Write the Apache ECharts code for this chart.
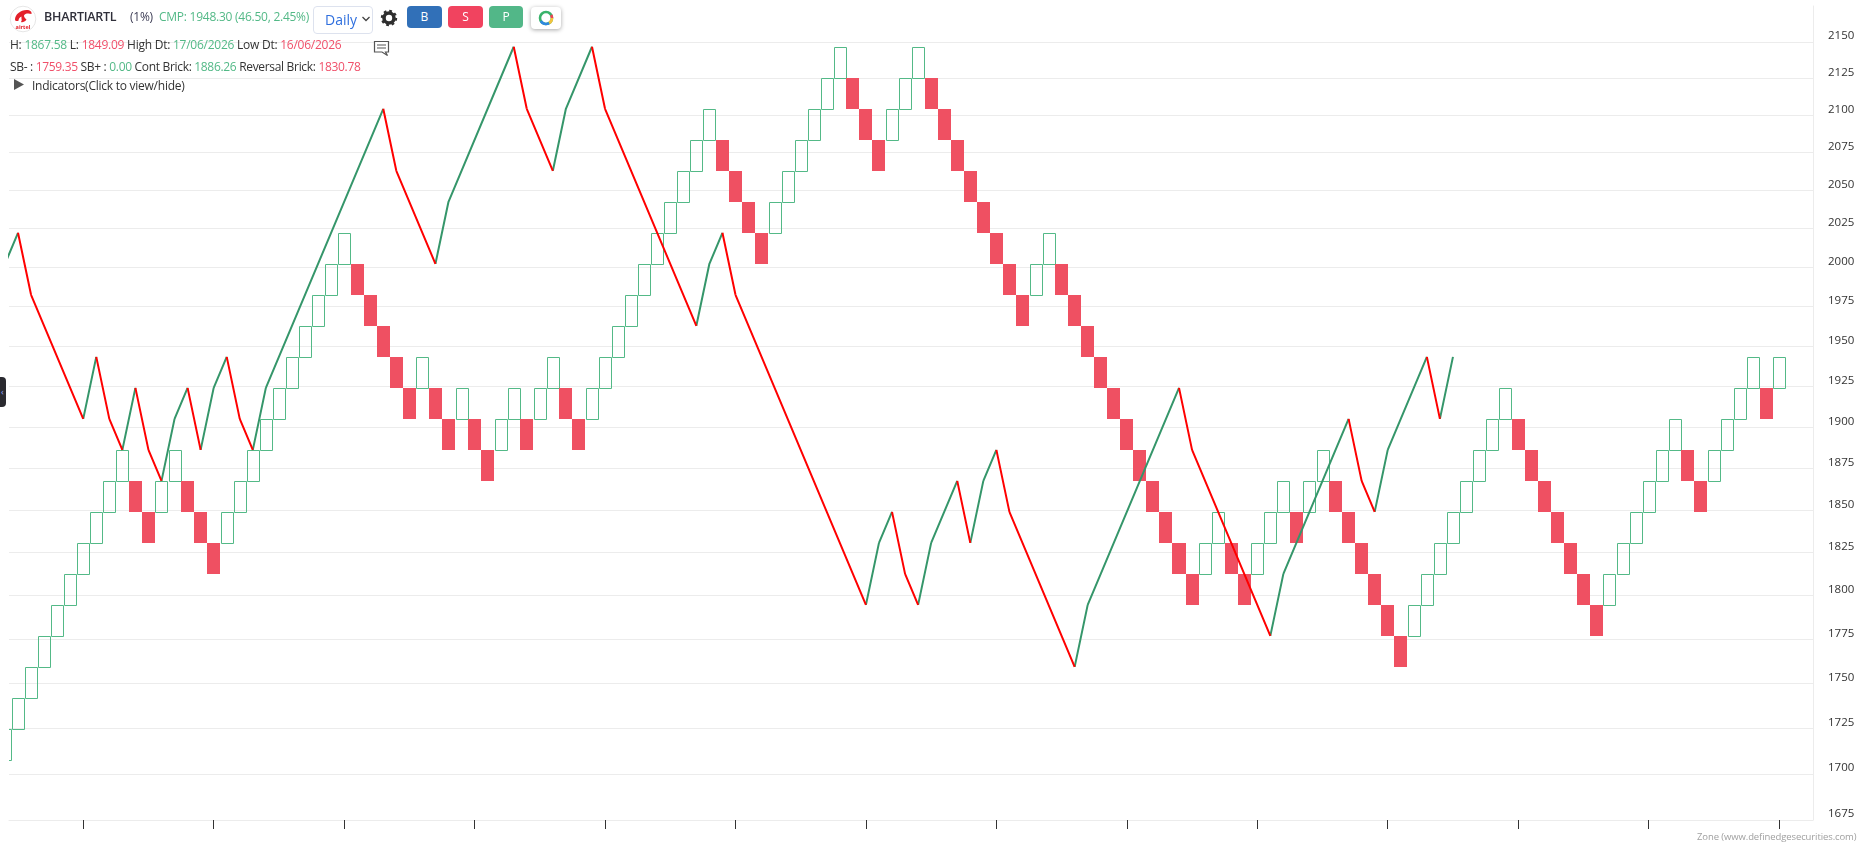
<!DOCTYPE html>
<html><head><meta charset="utf-8">
<style>
html,body{margin:0;padding:0;background:#fff;width:1860px;height:862px;overflow:hidden;font-family:"Open Sans",sans-serif;color:#333}
#chart{position:absolute;left:0;top:0;width:1860px;height:862px}
.t{position:absolute;white-space:nowrap;font-size:12px;line-height:16px;letter-spacing:-0.25px;z-index:5}
.g{color:#53b987}.r{color:#f0506a}
.btn{position:absolute;top:6px;height:22px;border-radius:4px;color:#fff;font-size:12px;line-height:22px;text-align:center;z-index:5}
svg{position:absolute;z-index:5}
</style>
<script src="https://cdn.jsdelivr.net/npm/echarts@6/dist/echarts.min.js"></script>
</head><body>
<div id="chart"></div>

<svg style="left:9px;top:5px" width="28" height="28" viewBox="0 0 28 28"><circle cx="14" cy="14" r="12.8" fill="#fff" stroke="#e6e6e6"/><path d="M6 14.500C6 9.500 11.500 5 17.500 5C21.500 5 23 7 22.500 9C20 8 15.500 8.200 15 10.500C14.700 12 16.500 13.500 17.500 14.500C16 17 12.500 18 12 16.800C13.500 15.500 12 13.500 12.500 11.500C10.500 12 9.500 14 9.500 15.800C7.800 16.500 6 16 6 14.500Z" fill="#e3202a"/><text x="14" y="23.500" text-anchor="middle" font-family="Open Sans" font-weight="700" font-size="5.500" fill="#e3202a">airtel</text></svg>
<div class="t" style="left:44px;top:9px;font-weight:600;font-size:12.5px;color:#2f2f3a">BHARTIARTL</div>
<div class="t" style="left:130px;top:9px;color:#3d3d55">(1%)</div>
<div class="t g" style="left:159px;top:9px">CMP: 1948.30 (46.50, 2.45%)</div>

<div style="position:absolute;left:313px;top:6px;width:58px;height:26px;border:1px solid #dde2ee;border-radius:4px;z-index:5"></div>
<div class="t" style="left:325px;top:12px;font-size:14px;color:#2f6fde;letter-spacing:0">Daily</div>
<svg style="left:361px;top:15px" width="10" height="8" viewBox="0 0 10 8"><path d="M1.500 2L5 5.500L8.500 2" fill="none" stroke="#444" stroke-width="1.300"/></svg>
<svg style="left:380px;top:9px" width="18" height="18" viewBox="0 0 18 18"><circle cx="9" cy="9" r="5" fill="none" stroke="#2e2e2e" stroke-width="3.600"/><circle cx="9" cy="9" r="7.200" fill="none" stroke="#2e2e2e" stroke-width="2" stroke-dasharray="2.800 2.850"/></svg>
<div class="btn" style="left:407px;width:35px;background:#3170b8">B</div>
<div class="btn" style="left:448px;width:35px;background:#f1435f">S</div>
<div class="btn" style="left:489px;width:34px;background:#52b788">P</div>
<div style="position:absolute;left:531px;top:7px;width:30px;height:22px;border-radius:4px;background:#fff;box-shadow:0 1px 4px rgba(0,0,0,.35);z-index:5"></div>
<svg style="left:537px;top:9px" width="18" height="18" viewBox="0 0 18 18"><g fill="none" stroke-width="2.600"><circle cx="9" cy="9" r="6" stroke="#38b36a"/><path d="M14.200 6A6 6 0 0 1 15 9" stroke="#ee4455"/><path d="M15 9A6 6 0 0 1 12 14.200" stroke="#f3c33c"/><path d="M12 14.200A6 6 0 0 1 3.800 12" stroke="#2f88e0"/></g></svg>

<div class="t" style="left:10px;top:37px"><span>H:</span> <span class="g">1867.58</span> <span>L:</span> <span class="r">1849.09</span> <span>High Dt:</span> <span class="g">17/06/2026</span> <span>Low Dt:</span> <span class="r">16/06/2026</span></div>
<div class="t" style="left:10px;top:59px;letter-spacing:-0.32px"><span>SB- :</span> <span class="r">1759.35</span> <span>SB+ :</span> <span class="g">0.00</span> <span>Cont Brick:</span> <span class="g">1886.26</span> <span>Reversal Brick:</span> <span class="r">1830.78</span></div>
<svg style="left:14px;top:79px" width="11" height="12" viewBox="0 0 11 12"><path d="M0 0L10 5.500L0 11Z" fill="#555"/></svg>
<div class="t" style="left:32px;top:78px">Indicators(Click to view/hide)</div>
<svg style="left:372px;top:40px" width="19" height="18" viewBox="0 0 19 18"><path d="M2.500 1.500H16.500V12H13.500L15.500 15.500L10 12H2.500Z" fill="#fff" stroke="#555" stroke-width="1.200"/><path d="M5 5H14M5 8H14" stroke="#555"/></svg>

<div style="position:absolute;left:0;top:377px;width:6px;height:30px;background:#2a2a30;border-radius:0 4px 4px 0;z-index:5"></div>
<div class="t" style="left:1px;top:384px;font-size:9px;color:#9aa6ff">&lsaquo;</div>
<div class="t" style="left:1697px;top:829px;font-size:9.500px;color:#a0a0a0;letter-spacing:-0.1px">Zone (www.definedgesecurities.com)</div>

<script>
const priceTicks = [1675,1700,1725,1750,1775,1800,1825,1850,1875,1900,1925,1950,1975,2000,2025,2050,2075,2100,2125,2150];
const brickTicks = [6,16,26,36,46,56,66,76,86,96,106,116,126,136];

const brickOpen = [
1707.62,1724.69,1741.93,1759.35,1776.94,1794.71,1812.66,1830.78,1849.09,1867.58,
1867.58,1849.09,1849.09,1867.58,1867.58,1849.09,1830.78,1830.78,1849.09,1867.58,
1886.26,1905.12,1924.17,1943.41,1962.85,1982.47,2002.30,2002.30,1982.47,1962.85,
1943.41,1924.17,1924.17,1924.17,1905.12,1905.12,1905.12,1886.26,1886.26,1905.12,
1905.12,1905.12,1924.17,1924.17,1905.12,1905.12,1924.17,1943.41,1962.85,1982.47,
2002.30,2022.32,2042.55,2062.97,2083.60,2083.60,2062.97,2042.55,2022.32,2022.32,
2042.55,2062.97,2083.60,2104.44,2125.48,2125.48,2104.44,2083.60,2083.60,2104.44,
2125.48,2125.48,2104.44,2083.60,2062.97,2042.55,2022.32,2002.30,1982.47,1982.47,
2002.30,2002.30,1982.47,1962.85,1943.41,1924.17,1905.12,1886.26,1867.58,1849.09,
1830.78,1812.66,1812.66,1830.78,1830.78,1812.66,1812.66,1830.78,1849.09,1849.09,
1849.09,1867.58,1867.58,1849.09,1830.78,1812.66,1794.71,1776.94,1776.94,1794.71,
1812.66,1830.78,1849.09,1867.58,1886.26,1905.12,1905.12,1886.26,1867.58,1849.09,
1830.78,1812.66,1794.71,1794.71,1812.66,1830.78,1849.09,1867.58,1886.26,1886.26,
1867.58,1867.58,1886.26,1905.12,1924.17,1924.17,1924.17];
const brickClose = [
1724.69,1741.93,1759.35,1776.94,1794.71,1812.66,1830.78,1849.09,1867.58,1886.26,
1849.09,1830.78,1867.58,1886.26,1849.09,1830.78,1812.66,1849.09,1867.58,1886.26,
1905.12,1924.17,1943.41,1962.85,1982.47,2002.30,2022.32,1982.47,1962.85,1943.41,
1924.17,1905.12,1943.41,1905.12,1886.26,1924.17,1886.26,1867.58,1905.12,1924.17,
1886.26,1924.17,1943.41,1905.12,1886.26,1924.17,1943.41,1962.85,1982.47,2002.30,
2022.32,2042.55,2062.97,2083.60,2104.44,2062.97,2042.55,2022.32,2002.30,2042.55,
2062.97,2083.60,2104.44,2125.48,2146.74,2104.44,2083.60,2062.97,2104.44,2125.48,
2146.74,2104.44,2083.60,2062.97,2042.55,2022.32,2002.30,1982.47,1962.85,2002.30,
2022.32,1982.47,1962.85,1943.41,1924.17,1905.12,1886.26,1867.58,1849.09,1830.78,
1812.66,1794.71,1830.78,1849.09,1812.66,1794.71,1830.78,1849.09,1867.58,1830.78,
1867.58,1886.26,1849.09,1830.78,1812.66,1794.71,1776.94,1759.35,1794.71,1812.66,
1830.78,1849.09,1867.58,1886.26,1905.12,1924.17,1886.26,1867.58,1849.09,1830.78,
1812.66,1794.71,1776.94,1812.66,1830.78,1849.09,1867.58,1886.26,1905.12,1867.58,
1849.09,1886.26,1905.12,1924.17,1943.41,1905.12,1943.41];

const lineIndex = [0,1,2,6,7,8,9,10,11,12,13,14,15,16,17,18,19,20,29,30,33,34,39,40,42,43,45,46,53,54,55,56,66,67,68,69,70,71,73,74,75,76,77,82,83,90,91,97,98,103,104,105,106,109,110,111];
const linePrice = [2002.30,2022.32,1982.47,1905.12,1943.41,1905.12,1886.26,1924.17,1886.26,1867.58,1905.12,1924.17,1886.26,1924.17,1943.41,1905.12,1886.26,1924.17,2104.44,2062.97,2002.30,2042.55,2146.74,2104.44,2062.97,2104.44,2146.74,2104.44,1962.85,2002.30,2022.32,1982.47,1794.71,1830.78,1849.09,1812.66,1794.71,1830.78,1867.58,1830.78,1867.58,1886.26,1849.09,1759.35,1794.71,1924.17,1886.26,1776.94,1812.66,1905.12,1867.58,1849.09,1886.26,1943.41,1905.12,1943.41];

const risePts = [], fallPts = [];
for (let i = 0; i < lineIndex.length - 1; i++) {
  const a = [lineIndex[i], linePrice[i]], b = [lineIndex[i + 1], linePrice[i + 1]];
  const list = b[1] > a[1] ? risePts : fallPts;
  list.push(a, b, [null, null]);
}
const brickData = brickOpen.map((o, i) => [i, o, brickClose[i]]);

const chart = echarts.init(document.getElementById('chart'), null, {renderer: 'canvas'});
chart.setOption({
  animation: false,
  backgroundColor: '#fff',
  grid: {left: 9, right: 47, top: 6, bottom: 42},
  xAxis: {
    type: 'value', min: 0.31, max: 138.6,
    axisLine: {show: true, onZero: false, lineStyle: {color: '#ececec'}},
    axisTick: {show: true, length: 9, inside: false, customValues: brickTicks, lineStyle: {color: '#333'}},
    axisLabel: {show: false},
    splitLine: {show: false}
  },
  yAxis: {
    type: 'log', logBase: Math.E, min: 1675, max: 2175, position: 'right',
    axisLine: {show: true, lineStyle: {color: '#ececec'}},
    axisTick: {show: false, customValues: priceTicks},
    axisLabel: {
      show: true, customValues: priceTicks, margin: 15, align: 'left',
      fontFamily: 'Open Sans', fontSize: 11.5, color: '#333', verticalAlign: 'bottom', lineHeight: 12,
      formatter: v => String(Math.round(v)), showMinLabel: true, showMaxLabel: true, hideOverlap: false
    },
    splitLine: {show: true, lineStyle: {color: '#ececec', width: 1}}
  },
  series: [
    {
      type: 'custom', clip: true, z: 2, data: brickData,
      encode: {x: 0, y: [1, 2]},
      renderItem(params, api) {
        const k = api.value(0), o = api.value(1), c = api.value(2);
        const up = c > o;
        const half = up ? 0.46 : 0.5;
        const p0 = api.coord([k - half, Math.max(o, c)]);
        const p1 = api.coord([k + half, Math.min(o, c)]);
        const nudge = up ? 0.5 : 0;
        const x0 = Math.round(p0[0]) + nudge, y0 = Math.round(p0[1]) + nudge;
        const x1 = Math.round(p1[0]) + nudge, y1 = Math.round(p1[1]) + nudge;
        return {
          type: 'rect',
          shape: {x: x0, y: y0, width: x1 - x0, height: y1 - y0},
          style: up ? {fill: 'none', stroke: '#53b987', lineWidth: 1} : {fill: '#ef5062'}
        };
      }
    },
    {type: 'line', name: 'fall', data: fallPts, connectNulls: false, showSymbol: false, symbol: 'none', z: 4, lineStyle: {color: '#ff0000', width: 2}, clip: true},
    {type: 'line', name: 'rise', data: risePts, connectNulls: false, showSymbol: false, symbol: 'none', z: 3, lineStyle: {color: '#35966a', width: 2}, clip: true}
  ]
});
</script>
</body></html>
